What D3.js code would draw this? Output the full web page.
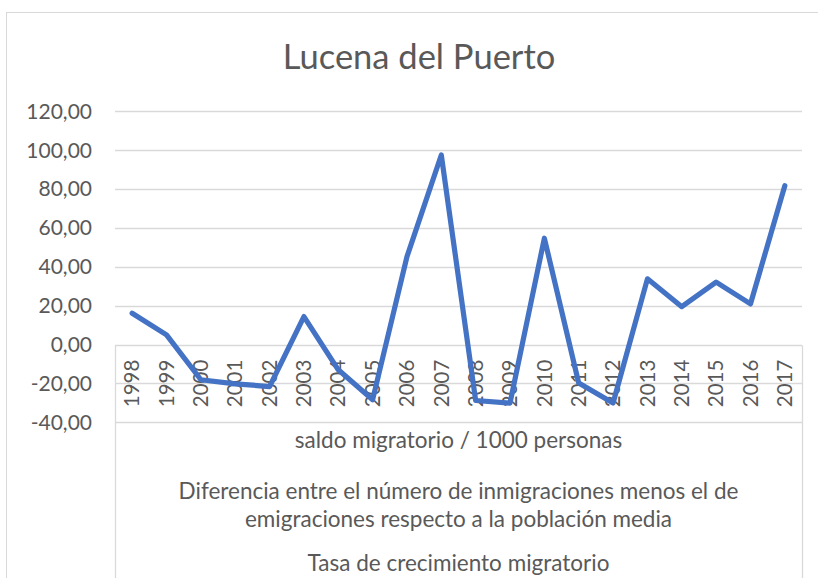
<!DOCTYPE html>
<html>
<head>
<meta charset="utf-8">
<script src="https://cdn.jsdelivr.net/npm/d3@7"></script>
<style>
  body { margin: 0; background: #fff; }
  svg { display: block; font-family: Lato, "Noto Sans", sans-serif; }
</style>
</head>
<body>
<svg id="chart"></svg>
<script>
// Data
var years = ["1998", "1999", "2000", "2001", "2002", "2003", "2004", "2005", "2006", "2007",
             "2008", "2009", "2010", "2011", "2012", "2013", "2014", "2015", "2016", "2017"];
var saldo = [16.1, 5.0, -18.1, -20.2, -21.6, 14.4, -13.0, -28.4, 45.2, 97.5,
             -28.8, -30.1, 54.7, -19.8, -30.1, 33.8, 19.5, 32.1, 20.9, 81.7];
var yTicks = [-40, -20, 0, 20, 40, 60, 80, 100, 120];
var catLevels = ["saldo migratorio / 1000 personas",
                 ["Diferencia entre el número de inmigraciones menos el de",
                  "emigraciones respecto a la población media"],
                 "Tasa de crecimiento migratorio"];
var title = "Lucena del Puerto";

// Variables
var width = 818;
var height = 578;
var left = 115, right = 802;
var gridColor = "#d9d9d9";
var textColor = "#595959";

var svg = d3.select("#chart")
    .attr("width", width)
    .attr("height", height);

// chart border
svg.append("rect")
    .attr("x", 6.5).attr("y", 12.5)
    .attr("width", 900).attr("height", 700)
    .attr("fill", "#fff")
    .attr("stroke", gridColor);

var x = d3.scaleBand()
    .domain(years)
    .range([left, right]);

var y = d3.scaleLinear()
    .domain([-40, 120])
    .range([422.3, 111.3]);

var fmt = function (v) { return d3.format(".2f")(v).replace(".", ",").replace("−", "-"); };

// gridlines
svg.append("g").selectAll("line")
    .data(yTicks)
    .enter().append("line")
    .attr("x1", left).attr("x2", right)
    .attr("y1", function (d) { return Math.round(y(d)) + 0.5; })
    .attr("y2", function (d) { return Math.round(y(d)) + 0.5; })
    .attr("stroke", gridColor)
    .attr("stroke-width", 1.3);

// y labels
svg.append("g").selectAll("text")
    .data(yTicks)
    .enter().append("text")
    .attr("x", 92)
    .attr("y", function (d) { return y(d); })
    .attr("dy", "0.35em")
    .attr("text-anchor", "end")
    .attr("fill", textColor)
    .style("font-size", "21px")
    .text(fmt);

// category table lines
var y0 = Math.round(y(0)) + 0.5;
[left, right].forEach(function (xx) {
    svg.append("line")
        .attr("x1", xx + 0.5).attr("x2", xx + 0.5)
        .attr("y1", y0).attr("y2", height + 10)
        .attr("stroke", gridColor)
        .attr("stroke-width", 1.3);
});

// year labels (rotated)
var midCat = (y(0) + y(-40)) / 2;
svg.append("g").selectAll("text")
    .data(years)
    .enter().append("text")
    .attr("transform", function (d) {
        return "translate(" + (x(d) + x.bandwidth() / 2) + "," + midCat + ") rotate(-90)";
    })
    .attr("dy", "0.35em")
    .attr("text-anchor", "middle")
    .attr("fill", textColor)
    .style("font-size", "20.5px")
    .text(function (d) { return d; });

// level texts
var cx = (left + right) / 2;
var catSize = "22.5px";
svg.append("text")
    .attr("x", cx).attr("y", 440).attr("dy", "0.35em")
    .attr("text-anchor", "middle").attr("fill", textColor)
    .style("font-size", catSize)
    .text(catLevels[0]);
catLevels[1].forEach(function (t, i) {
    svg.append("text")
        .attr("x", cx).attr("y", 491 + i * 28).attr("dy", "0.35em")
        .attr("text-anchor", "middle").attr("fill", textColor)
        .style("font-size", catSize)
        .text(t);
});
svg.append("text")
    .attr("x", cx).attr("y", 563).attr("dy", "0.35em")
    .attr("text-anchor", "middle").attr("fill", textColor)
    .style("font-size", catSize)
    .text(catLevels[2]);

// line
var line = d3.line()
    .x(function (d, i) { return x(years[i]) + x.bandwidth() / 2; })
    .y(function (d) { return y(d); });

svg.append("path")
    .datum(saldo)
    .attr("d", line)
    .attr("fill", "none")
    .attr("stroke", "#4472c4")
    .attr("stroke-width", 5.2)
    .attr("stroke-linejoin", "round")
    .attr("stroke-linecap", "round");

// title
svg.append("text")
    .attr("x", 419).attr("y", 57).attr("dy", "0.35em")
    .attr("text-anchor", "middle")
    .attr("fill", textColor)
    .style("font-size", "34.5px")
    .text(title);
</script>
</body>
</html>
